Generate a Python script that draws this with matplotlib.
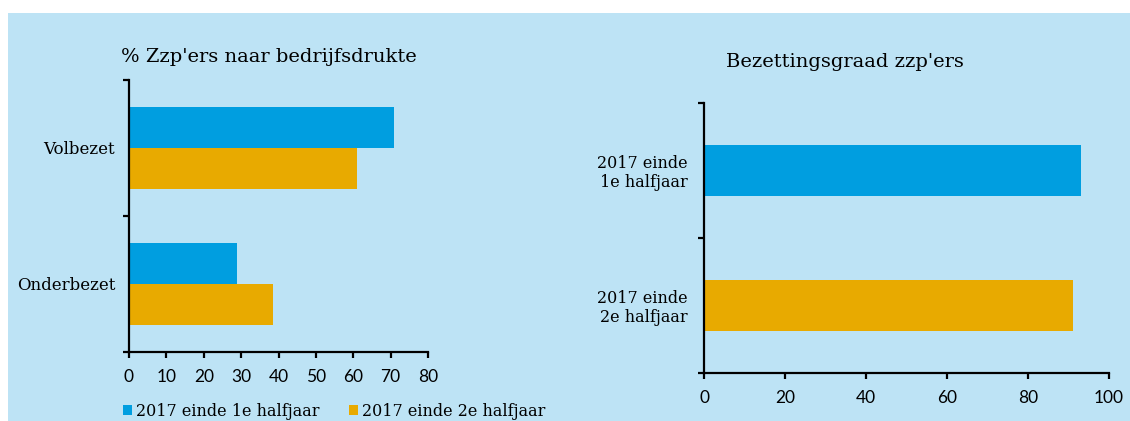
import matplotlib.pyplot as plt
from matplotlib.patches import Rectangle, Patch

# Data
drukte_cats = ["Volbezet", "Onderbezet"]
drukte_h1 = [71, 29]
drukte_h2 = [61, 38.5]

bezet_cats = ["2017 einde\n1e halfjaar", "2017 einde\n2e halfjaar"]
bezet_vals = [93, 91]

series_labels = ["2017 einde 1e halfjaar", "2017 einde 2e halfjaar"]

BG = "#bde3f5"
BLUE = "#009ee0"
ORANGE = "#e8aa00"
SERIF = "DejaVu Serif"
SANS = "Lato"

W, H = 1130, 421
fig = plt.figure(figsize=(W / 100, H / 100), dpi=100)
fig.patch.set_facecolor("white")
fig.patches.append(Rectangle((8 / W, 0), 1 - 8 / W, 1 - 12.5 / H,
                             transform=fig.transFigure, facecolor=BG,
                             edgecolor="none", zorder=-10))


def px_axes(x0, x1, ytop, ybot):
    return fig.add_axes([x0 / W, 1 - ybot / H, (x1 - x0) / W, (ybot - ytop) / H])


def style_axes(ax, xmax, step, pad_y):
    ax.set_facecolor("none")
    for s in ["top", "right"]:
        ax.spines[s].set_visible(False)
    for s in ["left", "bottom"]:
        ax.spines[s].set_linewidth(1.6)
    ax.set_xlim(0, xmax)
    ax.set_xticks(range(0, xmax + 1, step))
    ax.set_ylim(1.5, -0.5)
    ax.set_yticks([-0.5, 0.5, 1.5], minor=True)
    ax.tick_params(axis="y", which="major", length=0, pad=pad_y)
    ax.tick_params(axis="y", which="minor", length=4, width=1.6)
    ax.tick_params(axis="x", length=4, width=1.6, pad=8)
    for lab in ax.get_xticklabels():
        lab.set_fontfamily(SANS)
        lab.set_fontsize(12.5)


# Left panel: % Zzp'ers naar bedrijfsdrukte
ax1 = px_axes(129, 428, 80, 352)
y = range(len(drukte_cats))
ax1.barh([i - 0.15 for i in y], drukte_h1, height=0.3, color=BLUE, label=series_labels[0])
ax1.barh([i + 0.15 for i in y], drukte_h2, height=0.3, color=ORANGE, label=series_labels[1])
style_axes(ax1, 80, 10, 10)
ax1.set_yticks(list(y))
ax1.set_yticklabels(drukte_cats, fontfamily=SERIF, fontsize=12)
fig.text(121 / W, 1 - 57 / H, "% Zzp'ers naar bedrijfsdrukte", fontfamily=SERIF,
         fontsize=14, ha="left", va="center")

handles = [Patch(facecolor=BLUE), Patch(facecolor=ORANGE)]
fig.legend(handles, series_labels, loc="center left",
           bbox_to_anchor=(123 / W, 1 - 411 / H), ncol=2, frameon=False,
           handlelength=0.55, handleheight=0.55, handletextpad=0.25,
           columnspacing=1.85, borderpad=0, borderaxespad=0,
           prop={"family": SERIF, "size": 11.5})

# Right panel: Bezettingsgraad zzp'ers
ax2 = px_axes(704, 1109, 103, 373)
y2 = range(len(bezet_cats))
ax2.barh(list(y2), bezet_vals, height=0.385, color=[BLUE, ORANGE])
style_axes(ax2, 100, 20, 12)
ax2.set_yticks(list(y2))
ax2.set_yticklabels(bezet_cats, fontfamily=SERIF, fontsize=11.5,
                    multialignment="right", linespacing=1.15)
fig.text(726 / W, 1 - 62 / H, "Bezettingsgraad zzp'ers", fontfamily=SERIF,
         fontsize=14, ha="left", va="center")

fig.savefig("out.png", dpi=100)
